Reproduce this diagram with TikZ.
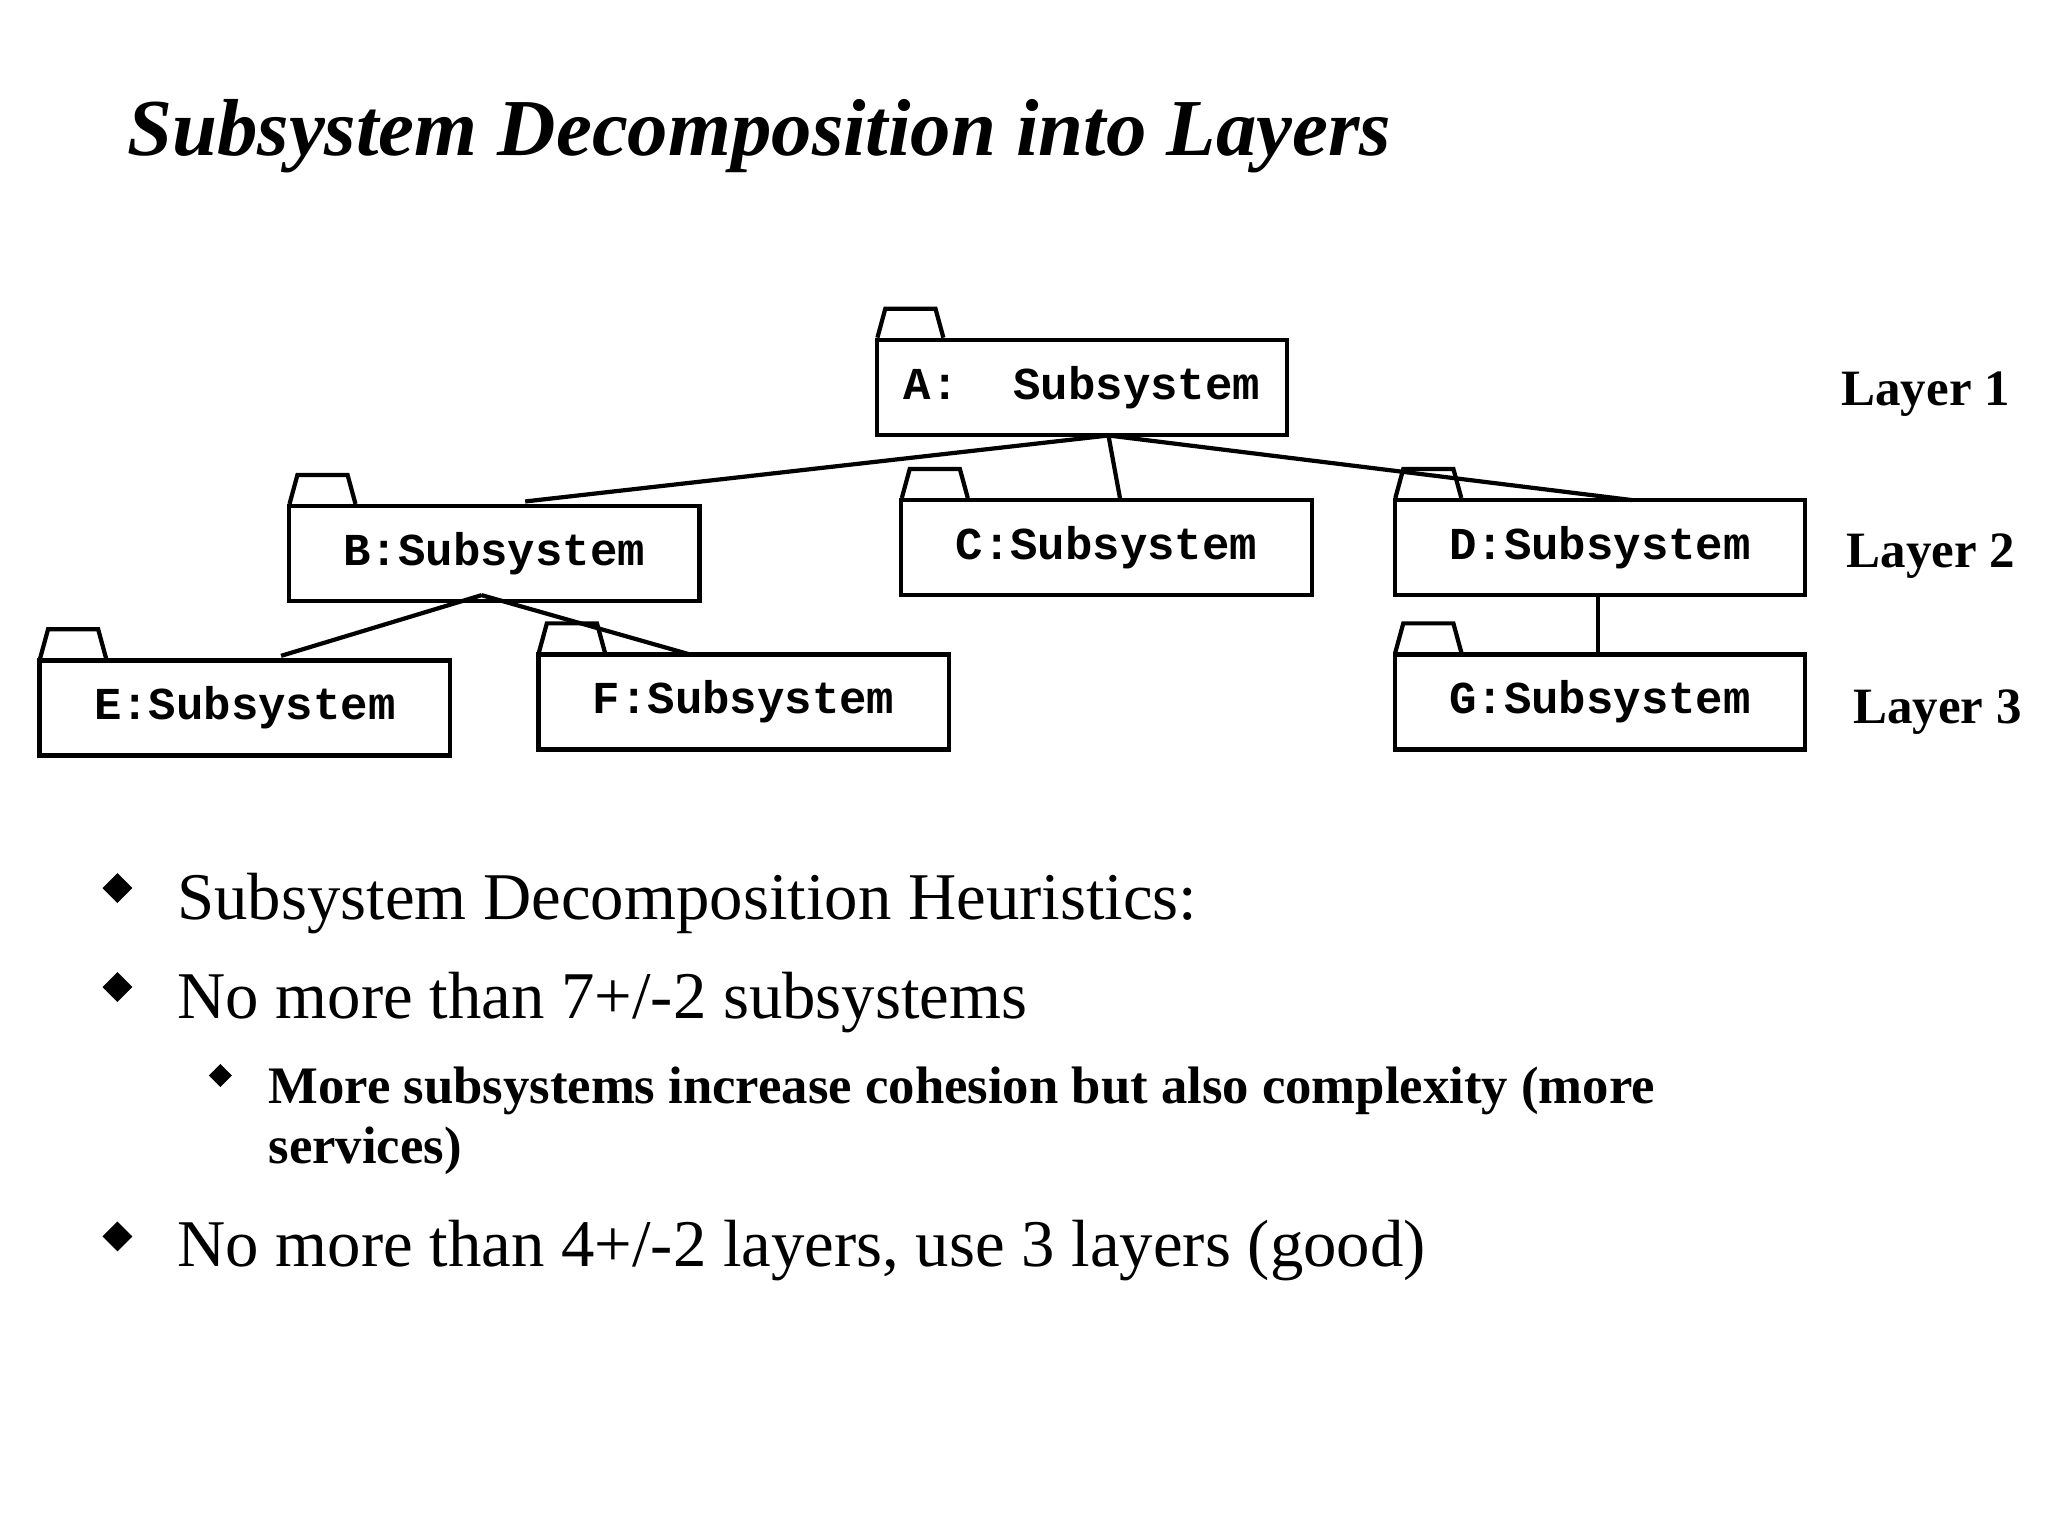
\documentclass[tikz,border=0pt]{standalone}
\usetikzlibrary{shapes.geometric}
\usepackage{fontspec}
\setmainfont{Liberation Serif}
\setmonofont{Liberation Mono}
\begin{document}
\begin{tikzpicture}[x=0.0132cm,y=-0.0132cm,line width=1.2pt,
  pkg/.style={draw,minimum width=311*0.0132cm,minimum height=72*0.0132cm,inner sep=0pt,font=\ttfamily\bfseries\fontsize{13}{15}\selectfont},
  lay/.style={anchor=base west,font=\bfseries\fontsize{14.5}{17}\selectfont},
  bul/.style={anchor=base west,font=\fontsize{19}{23}\selectfont},
  dia/.style={fill,diamond,inner sep=0pt,minimum size=9pt,draw=none}]
\useasboundingbox (0,0) rectangle (1552,1164);
\node[anchor=base west,font=\bfseries\itshape\fontsize{23}{27}\selectfont] (title) at (86,118) {Subsystem Decomposition into Layers};
\newcommand{\tab}[1]{\draw (#1.north west) ++(2,0) -- ++(6,-22) -- ++(38,0) -- ++(6,22);}
\node[pkg] (A) at (820,293.5) {A:~~Subsystem};
\node[pkg] (B) at (374.5,419.5) {B:Subsystem};
\node[pkg] (C) at (838.5,415) {C:Subsystem};
\node[pkg] (D) at (1212.5,415) {D:Subsystem};
\node[pkg] (E) at (185.5,536.5) {E:Subsystem};
\node[pkg] (F) at (563.5,532) {F:Subsystem};
\node[pkg] (G) at (1212.5,532) {G:Subsystem};
\foreach \n in {A,B,C,D,E,F,G} {\tab{\n}}
\coordinate (a) at (840,330);
\coordinate (b) at (365,451);
\draw (a) -- (398,380) (a) -- (849,379) (a) -- (1237,379);
\draw (b) -- (213,497) (b) -- (523,496);
\draw (1211,451) -- (1211,496);
\node[lay] (l1) at (1385,307) {Layer 1};
\node[lay] (l2) at (1389,430) {Layer 2};
\node[lay] (l3) at (1394,548) {Layer 3};
\node[dia] (d1) at (89,673) {};
\node[bul] (t1) at (124,697) {Subsystem Decomposition Heuristics:};
\node[dia] (d2) at (89,748) {};
\node[bul] (t2) at (124,772) {No more than 7+/-2 subsystems};
\node[dia,minimum size=7pt] (d3) at (167,815) {};
\node[anchor=base west,font=\bfseries\fontsize{15}{18}\selectfont] (t3) at (193,836) {More subsystems increase cohesion but also complexity (more};
\node[anchor=base west,font=\bfseries\fontsize{15}{18}\selectfont] (t4) at (193,882) {services)};
\node[dia] (d4) at (89,937) {};
\node[bul] (t5) at (124,960) {No more than 4+/-2 layers, use 3 layers (good)};
\end{tikzpicture}
\end{document}
